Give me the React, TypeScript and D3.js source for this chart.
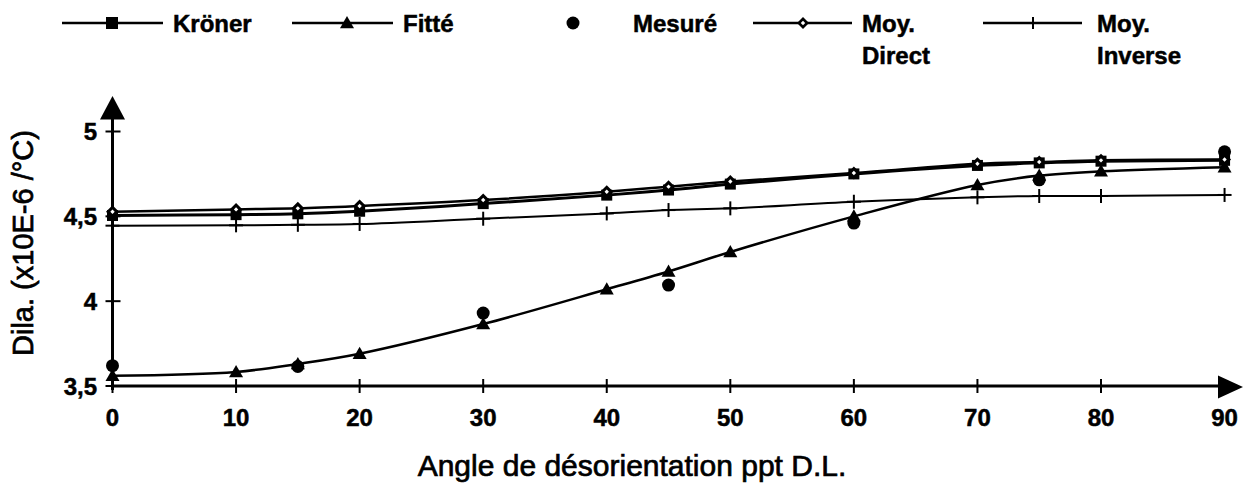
import React from "react";
import * as d3 from "d3";

const angles = [0, 10, 15, 20, 30, 40, 45, 50, 60, 70, 75, 80, 90];
const kroner = [4.505, 4.51, 4.515, 4.53, 4.575, 4.625, 4.655, 4.69, 4.75, 4.8, 4.815, 4.825, 4.83];
const fitte = [3.56, 3.583, 3.63, 3.69, 3.865, 4.07, 4.175, 4.29, 4.5, 4.685, 4.74, 4.765, 4.79];
const moyDirect = [4.527, 4.541, 4.547, 4.561, 4.596, 4.645, 4.675, 4.705, 4.755, 4.81, 4.82, 4.83, 4.835];
const moyInverse = [4.445, 4.447, 4.45, 4.455, 4.486, 4.517, 4.537, 4.547, 4.586, 4.612, 4.62, 4.62, 4.626];
const mesureAngles = [0, 15, 30, 45, 60, 75, 90];
const mesure = [3.62, 3.615, 3.93, 4.095, 4.46, 4.715, 4.88];

const xTicks = [0, 10, 20, 30, 40, 50, 60, 70, 80, 90];
const yTicks = [3.5, 4, 4.5, 5];
const yTickLabels = ["3,5", "4", "4,5", "5"];

const W = 1243;
const H = 486;
const FONT = "'Liberation Sans', Arial, sans-serif";

const x = d3.scaleLinear().domain([0, 80]).range([112.5, 1101]);
const y = d3.scaleLinear().domain([3.5, 5]).range([386, 131.5]);

type Pt = [number, number];
const pts = (xs: number[], ys: number[]): Pt[] => xs.map((a, i) => [a, ys[i]]);

const line = d3
  .line<Pt>()
  .x((d) => x(d[0]))
  .y((d) => y(d[1]))
  .curve(d3.curveCatmullRom.alpha(0.5));

const Square = ({ cx, cy, s = 5 }: { cx: number; cy: number; s?: number }) => (
  <rect x={cx - s} y={cy - s} width={2 * s} height={2 * s} fill="#000" />
);
const Triangle = ({ cx, cy, s = 7 }: { cx: number; cy: number; s?: number }) => (
  <path d={`M${cx},${cy - s} L${cx + s},${cy + s * 0.75} L${cx - s},${cy + s * 0.75} Z`} fill="#000" />
);
const Dot = ({ cx, cy, r = 6.5 }: { cx: number; cy: number; r?: number }) => <circle cx={cx} cy={cy} r={r} fill="#000" />;
const Diamond = ({ cx, cy, s = 6.5 }: { cx: number; cy: number; s?: number }) => (
  <g>
    <path d={`M${cx},${cy - s} L${cx + s},${cy} L${cx},${cy + s} L${cx - s},${cy} Z`} fill="#000" />
    <path d={`M${cx},${cy - 2.2} L${cx + 2.2},${cy} L${cx},${cy + 2.2} L${cx - 2.2},${cy} Z`} fill="#fff" />
  </g>
);
const Plus = ({ cx, cy, s = 7 }: { cx: number; cy: number; s?: number }) => (
  <g stroke="#000" strokeWidth={2}>
    <line x1={cx - s} x2={cx + s} y1={cy} y2={cy} />
    <line x1={cx} x2={cx} y1={cy - s} y2={cy + s} />
  </g>
);

export default function App() {
  const kPts = pts(angles, kroner);
  const fPts = pts(angles, fitte);
  const dPts = pts(angles, moyDirect);
  const iPts = pts(angles, moyInverse);
  const mPts = pts(mesureAngles, mesure);
  const legY = 23;
  const textStyle = {
    fontFamily: FONT,
    fontWeight: 700,
    fontSize: 24,
    stroke: "#000",
    strokeWidth: 0.5,
  } as const;
  const titleStyle = { fontFamily: FONT, fontSize: 30, stroke: "#000", strokeWidth: 0.7 } as const;

  return (
    <svg
      width={W}
      height={H}
      viewBox={`0 0 ${W} ${H}`}
      style={{ position: "absolute", left: 0, top: 0, background: "#fff" }}
    >
      <rect width={W} height={H} fill="#fff" />

      {/* Legend */}
      <g>
        <line x1={62} x2={163} y1={legY} y2={legY} stroke="#000" strokeWidth={2.5} />
        <Square cx={112} cy={legY} s={6} />
        <text x={173} y={32} {...textStyle}>Kröner</text>

        <line x1={292} x2={393} y1={legY} y2={legY} stroke="#000" strokeWidth={2.5} />
        <Triangle cx={347} cy={legY} s={7} />
        <text x={403} y={32} {...textStyle}>Fitté</text>

        <Dot cx={573} cy={legY} r={6.5} />
        <text x={633} y={32} {...textStyle}>Mesuré</text>

        <line x1={753} x2={852} y1={legY} y2={legY} stroke="#000" strokeWidth={2.5} />
        <Diamond cx={803} cy={legY} s={6} />
        <text x={862} y={32} {...textStyle}>Moy.</text>
        <text x={862} y={64} {...textStyle}>Direct</text>

        <line x1={983} x2={1082} y1={legY} y2={legY} stroke="#000" strokeWidth={2.5} />
        <Plus cx={1033} cy={legY} s={6} />
        <text x={1097} y={32} {...textStyle}>Moy.</text>
        <text x={1097} y={64} {...textStyle}>Inverse</text>
      </g>

      {/* Axes */}
      <g stroke="#000" strokeWidth={3}>
        <line x1={x(0)} x2={x(0)} y1={y(3.5) + 4} y2={110} />
        <line x1={x(0)} x2={1225} y1={y(3.5)} y2={y(3.5)} />
      </g>
      <path d={`M${x(0)},96 L${x(0) + 12.5},119.5 L${x(0) - 12.5},119.5 Z`} fill="#000" />
      <path d={`M1243,${y(3.5) + 1} L1218,${y(3.5) - 10.5} L1218,${y(3.5) + 12.5} Z`} fill="#000" />

      {/* ticks */}
      <g stroke="#000" strokeWidth={2}>
        {xTicks.filter((t) => t < 90).map((t) => (
          <line key={t} x1={x(t)} x2={x(t)} y1={y(3.5) - 7} y2={y(3.5) + 7} />
        ))}
        {yTicks.map((t) => (
          <line key={t} x1={x(0) - 7} x2={x(0) + 8} y1={y(t)} y2={y(t)} />
        ))}
      </g>
      <g>
        {xTicks.map((t) => (
          <text key={t} x={x(t)} y={426} textAnchor="middle" {...textStyle}>{t}</text>
        ))}
        {yTicks.map((t, i) => (
          <text key={t} x={97} y={y(t) + 8.5} textAnchor="end" {...textStyle}>{yTickLabels[i]}</text>
        ))}
      </g>

      {/* Axis titles */}
      <text x={632} y={476} textAnchor="middle" {...titleStyle}>
        Angle de désorientation ppt D.L.
      </text>
      <text transform={`translate(33,243) rotate(-90)`} textAnchor="middle" {...titleStyle} fontSize={29}>
        Dila. (x10E-6 /°C)
      </text>

      {/* Series lines */}
      <path d={line(iPts) || ""} fill="none" stroke="#000" strokeWidth={2} />
      <path d={line(fPts) || ""} fill="none" stroke="#000" strokeWidth={2.5} />
      <path d={line(kPts) || ""} fill="none" stroke="#000" strokeWidth={3} />
      <path d={line(dPts) || ""} fill="none" stroke="#000" strokeWidth={2.5} />

      {/* Markers */}
      {iPts.map((d, i) => <Plus key={`i${i}`} cx={x(d[0])} cy={y(d[1])} s={7} />)}
      {fPts.map((d, i) => <Triangle key={`f${i}`} cx={x(d[0])} cy={y(d[1])} s={7} />)}
      {mPts.map((d, i) => <Dot key={`m${i}`} cx={x(d[0])} cy={y(d[1])} r={6.5} />)}
      {kPts.map((d, i) => <Square key={`k${i}`} cx={x(d[0])} cy={y(d[1])} s={5.5} />)}
      {dPts.map((d, i) => <Diamond key={`d${i}`} cx={x(d[0])} cy={y(d[1])} s={6.5} />)}
    </svg>
  );
}
